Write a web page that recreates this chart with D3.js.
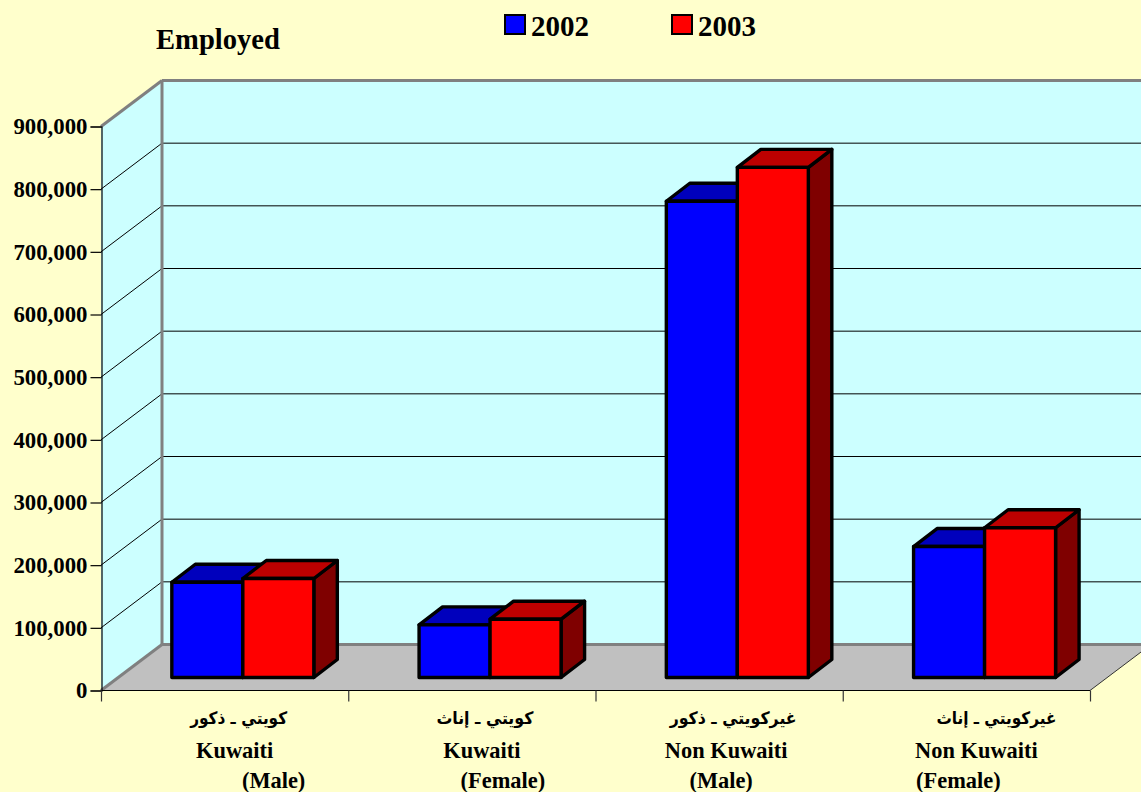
<!DOCTYPE html>
<html><head><meta charset="utf-8">
<script src="https://cdn.jsdelivr.net/npm/d3@7"></script>
<style>
html,body{margin:0;padding:0;background:#FFFFCC;overflow:hidden}
text{font-family:"Liberation Serif",serif;font-weight:bold;fill:#000}
.ar{font-family:"DejaVu Sans",sans-serif;font-weight:bold}
</style></head><body>
<svg id="c" width="1141" height="792"></svg>
<script>
// ---- data ----
const categories = ["Kuwaiti Male","Kuwaiti Female","Non Kuwaiti Male","Non Kuwaiti Female"];
const arabicLabels = ["كويتي ـ ذكور","كويتي ـ إناث","غيركويتي ـ ذكور","غيركويتي ـ إناث"];
const latinLabels = ["Kuwaiti","Kuwaiti","Non Kuwaiti","Non Kuwaiti"];
const genderLabels = ["(Male)","(Female)","(Male)","(Female)"];
const years = ["2002","2003"];
const values2002 = [152000,84000,760000,209000];
const values2003 = [158000,93000,814000,239000];
const yTicks = [0,100000,200000,300000,400000,500000,600000,700000,800000,900000];
const titleText = "Employed";

// ---- layout ----
const W=1141,H=792;
const wallDx=61, wallDy=46, barDepthDx=23.5, barDepthDy=18, barBaseDx=18.2, barBaseDy=13;
const plotLeft=101, plotRight=1090, y0=690.5, yTop=126.5;
const arabicDx=[14,13,14,30], arabicW=[97,97,127,120], latinDx=[10,10,7,10], genderDx=[49,31,2,-8];
const svg=d3.select("#c");
svg.append("rect").attr("width",W).attr("height",H).attr("fill","#FFFFCC");

const y=d3.scaleLinear().domain([0,900000]).range([y0,yTop]);
const xCat=d3.scaleBand().domain(categories).range([plotLeft,plotRight]);
const xBar=d3.scaleBand().domain(years).range([0,142]);
const colors={ "2002":{front:"#0000FF",top:"#0000BD",side:"#00007F"}, "2003":{front:"#FF0000",top:"#BD0000",side:"#7F0000"} };
const pts=a=>a.map(p=>p.join(",")).join(" ");
const line=(x1,y1,x2,y2,c,w)=>svg.append("line").attr("x1",x1).attr("y1",y1).attr("x2",x2).attr("y2",y2).attr("stroke",c).attr("stroke-width",w);

// walls and floor
svg.append("polygon").attr("fill","#CCFFFF").attr("points",pts([[plotLeft+wallDx,yTop-wallDy],[W+2,yTop-wallDy],[W+2,y0-wallDy],[plotLeft+wallDx,y0-wallDy]]));
svg.append("polygon").attr("fill","#CCFFFF").attr("points",pts([[plotLeft,yTop],[plotLeft+wallDx,yTop-wallDy],[plotLeft+wallDx,y0-wallDy],[plotLeft,y0]]));
svg.append("polygon").attr("fill","#C0C0C0").attr("points",pts([[plotLeft,y0],[plotLeft+wallDx,y0-wallDy],[plotRight+wallDx,y0-wallDy],[plotRight,y0]]));

// gridlines
yTicks.filter(v=>v>0&&v<900000).forEach(v=>{
  line(plotLeft,y(v),plotLeft+wallDx,y(v)-wallDy,"#000",1);
  line(plotLeft+wallDx,y(v)-wallDy,W,y(v)-wallDy,"#000",1);
});
// gray wall edges
const gray="#808080";
line(plotLeft,yTop,plotLeft+wallDx,yTop-wallDy,gray,3);
line(plotLeft+wallDx,yTop-wallDy,W,yTop-wallDy,gray,3);
line(plotLeft+wallDx,yTop-wallDy,plotLeft+wallDx,y0-wallDy,gray,3);
line(plotLeft+wallDx,y0-wallDy,W,y0-wallDy,gray,3);
line(plotLeft,y0,plotLeft+wallDx,y0-wallDy,gray,3);
line(plotRight,y0,plotRight+wallDx,y0-wallDy,"#333",1);

// axes
const yAxis=d3.axisLeft(y).tickValues(yTicks).tickSize(11).tickPadding(3).tickFormat(d3.format(","));
const ga=svg.append("g").attr("transform",`translate(${plotLeft}.5,0)`).call(yAxis);
ga.select(".domain").attr("stroke","#000").attr("stroke-width",1.2);
ga.selectAll(".tick line").attr("stroke","#000").attr("stroke-width",1.2);
ga.selectAll("text").style("font-family",'"Liberation Serif",serif').style("font-weight","bold").style("font-size","22.8px").attr("fill","#000").attr("dy","0.32em");
line(plotLeft,y0,plotRight,y0,"#000",1.2);
d3.range(5).forEach(i=>{
  const xt=plotLeft+i*xCat.step();
  line(xt+.5,y0,xt+.5,y0+11,"#333",1.2);
});

// bars
const seriesList=[values2002,values2003];
categories.forEach((cat,ci)=>{
  years.forEach((yr,si)=>{
    const v=seriesList[si][ci], col=colors[yr];
    const bw=xBar.bandwidth();
    const xl=xCat(cat)+barBaseDx+(xCat.bandwidth()-xBar.step()*2)/2+xBar(yr);
    const xr=xl+bw, yb=y0-barBaseDy, yt=y(v)-barBaseDy;
    const g=svg.append("g").attr("stroke","#000").attr("stroke-width",3.4).attr("stroke-linejoin","round");
    g.append("polygon").attr("fill",col.side).attr("points",pts([[xr,yt],[xr+barDepthDx,yt-barDepthDy],[xr+barDepthDx,yb-barDepthDy],[xr,yb]]));
    g.append("polygon").attr("fill",col.top).attr("points",pts([[xl,yt],[xl+barDepthDx,yt-barDepthDy],[xr+barDepthDx,yt-barDepthDy],[xr,yt]]));
    g.append("rect").attr("x",xl).attr("y",yt).attr("width",bw).attr("height",yb-yt).attr("fill",col.front);
  });
});

// category labels
categories.forEach((cat,i)=>{
  const cx=xCat(cat)+xCat.bandwidth()/2;
  svg.append("text").attr("class","ar").attr("x",cx+arabicDx[i]).attr("y",724).attr("text-anchor","middle").attr("font-size",17).attr("direction","rtl").attr("textLength",arabicW[i]).attr("lengthAdjust","spacingAndGlyphs").text(arabicLabels[i]);
  svg.append("text").attr("x",cx+latinDx[i]).attr("y",758).attr("text-anchor","middle").attr("font-size",22.4).text(latinLabels[i]);
  svg.append("text").attr("x",cx+genderDx[i]).attr("y",788).attr("text-anchor","middle").attr("font-size",22.4).text(genderLabels[i]);
});

// title and legend
svg.append("text").attr("x",156).attr("y",48.5).attr("font-size",28.6).text(titleText);
const legendX=d3.scaleOrdinal().domain(years).range([505,672]);
years.forEach(yr=>{
  svg.append("rect").attr("x",legendX(yr)).attr("y",15).attr("width",20).attr("height",19).attr("fill",colors[yr].front).attr("stroke","#000").attr("stroke-width",2);
  svg.append("text").attr("x",legendX(yr)+26).attr("y",35.5).attr("font-size",29).text(yr);
});
</script></body></html>
